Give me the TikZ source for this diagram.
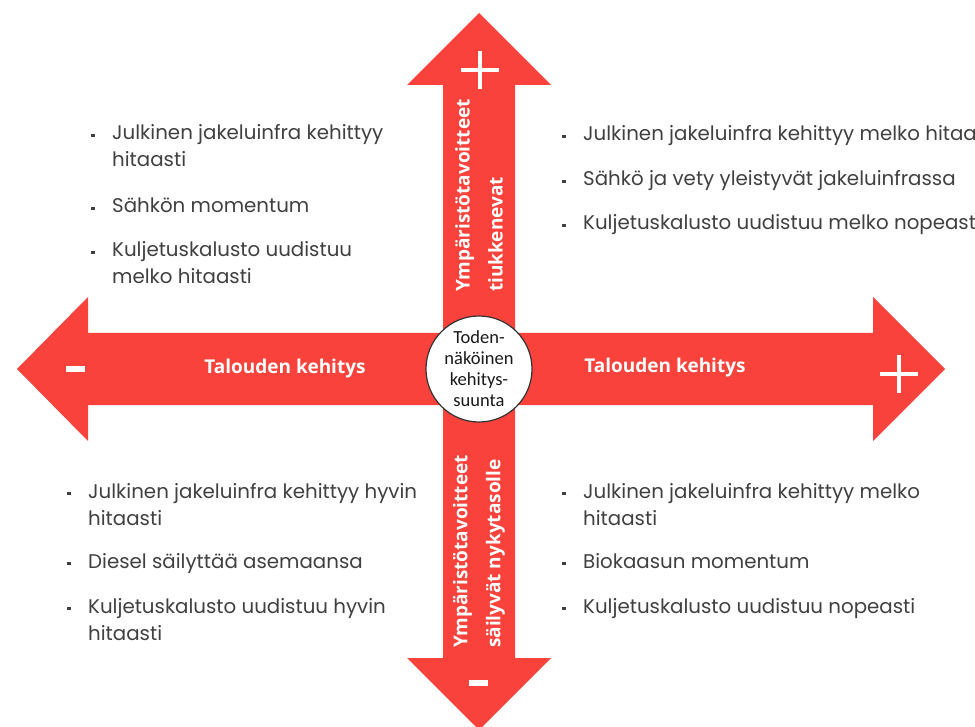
\documentclass[tikz,border=0pt]{standalone}
\usepackage{fontspec}
\setmainfont{Poppins}
\newfontfamily\labelfont{Open Sans}
\newfontfamily\circfont{Carlito}
\definecolor{axisred}{RGB}{249,66,59}
\definecolor{listgray}{RGB}{64,64,64}
\tikzset{
  listtxt/.style={anchor=base west, inner sep=0pt, text=listgray, font=\fontsize{19.8}{27}\selectfont},
  bul/.style={fill=listgray, inner sep=0pt, minimum size=3.5pt},
  axislabel/.style={text=white, inner sep=0pt, font=\labelfont\bfseries\fontsize{19}{33}\selectfont},
  sign/.style={white, line width=4pt},
}
\begin{document}
\begin{tikzpicture}[x=1pt, y=-1pt]
\useasboundingbox (0,0) rectangle (975,727);
\clip (0,0) rectangle (975,727);
% axes
\fill[axisred] (479,13) -- (551,85) -- (515,85) -- (515,658) -- (551,658) -- (479,730) -- (407,658) -- (443,658) -- (443,85) -- (407,85) -- cycle;
\fill[axisred] (17,369) -- (88,297) -- (88,333) -- (873,333) -- (873,297) -- (945,369) -- (873,441) -- (873,405) -- (88,405) -- (88,441) -- cycle;
% plus and minus
\draw[sign] (461,70) -- (499,70) (480,51) -- (480,89);
\draw[sign] (880,374) -- (918,374) (899,355) -- (899,393);
\fill[white] (66,366) rectangle (85,372);
\fill[white] (469,680) rectangle (488,686);
% axis labels
\node[axislabel] (econL) at (285,369) {Talouden kehitys};
\node[axislabel] (econR) at (665,368) {Talouden kehitys};
\node[axislabel, rotate=90, anchor=west, align=left] (envUp) at (479,292) {Ympäristötavoitteet\\tiukkenevat};
\node[axislabel, rotate=90, anchor=west, align=left] (envDown) at (479,648) {Ympäristötavoitteet\\säilyvät nykytasolle};
% centre
\node[circle, draw=black!80, line width=1.2pt, fill=white, minimum size=106pt, inner sep=0pt, align=center,
  text=black!90, font=\circfont\fontsize{18.5}{21}\selectfont] (trend) at (479,369) {Toden-\\näköinen\\kehitys-\\suunta};
% top left
\node[listtxt] (tl1) at (112,140) {Julkinen jakeluinfra kehittyy};
\node[listtxt] (tl1b) at (112,167) {hitaasti};
\node[listtxt] (tl2) at (112,213) {Sähkön momentum};
\node[listtxt] (tl3) at (112,257) {Kuljetuskalusto uudistuu};
\node[listtxt] (tl3b) at (112,284) {melko hitaasti};
% top right
\node[listtxt] (tr1) at (583,141) {Julkinen jakeluinfra kehittyy melko hitaa};
\node[listtxt] (tr2) at (583,186) {Sähkö ja vety yleistyvät jakeluinfrassa};
\node[listtxt] (tr3) at (583,230) {Kuljetuskalusto uudistuu melko nopeast};
% bottom left
\node[listtxt] (bl1) at (88,498) {Julkinen jakeluinfra kehittyy hyvin};
\node[listtxt] (bl1b) at (88,525) {hitaasti};
\node[listtxt] (bl2) at (88,568) {Diesel säilyttää asemaansa};
\node[listtxt] (bl3) at (88,613) {Kuljetuskalusto uudistuu hyvin};
\node[listtxt] (bl3b) at (88,640) {hitaasti};
% bottom right
\node[listtxt] (br1) at (583,498) {Julkinen jakeluinfra kehittyy melko};
\node[listtxt] (br1b) at (583,525) {hitaasti};
\node[listtxt] (br2) at (583,568) {Biokaasun momentum};
\node[listtxt] (br3) at (583,613) {Kuljetuskalusto uudistuu nopeasti};
% bullets
\foreach \n in {tl1,tl2,tl3,tr1,tr2,tr3,bl1,bl2,bl3,br1,br2,br3}
  \node[bul] (b-\n) at ([xshift=-19pt, yshift=4.5pt]\n.base west) {};
\end{tikzpicture}
\end{document}
